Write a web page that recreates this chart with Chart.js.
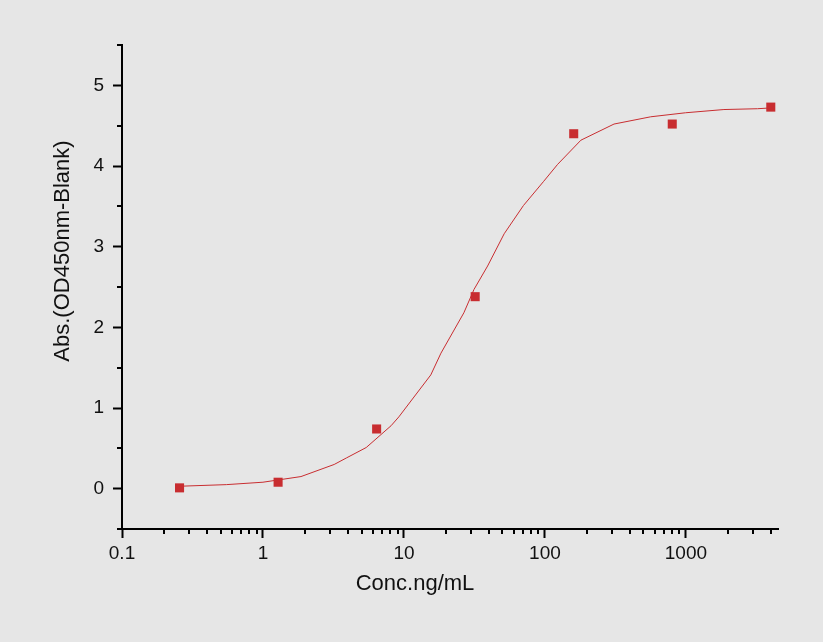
<!DOCTYPE html>
<html>
<head>
<meta charset="utf-8">
<script src="https://cdn.jsdelivr.net/npm/chart.js@4.4.1/dist/chart.umd.min.js"></script>
<style>
  html, body { margin: 0; padding: 0; background: #e6e6e6; }
  canvas { display: block; }
</style>
</head>
<body>
<canvas id="ELISACHART" width="823" height="642"></canvas>
<script>
// measured points (5-fold dilution series)
const concValues = [0.256, 1.28, 6.4, 32, 160, 800, 4000];
const absValues = [0.01, 0.08, 0.74, 2.38, 4.40, 4.52, 4.73];

// fitted curve
const fitConc = [0.256, 0.55, 1, 1.86, 3.2, 3.9, 5.4, 8.1, 9.2, 15.5, 18.3, 26.6, 31.4, 39.2, 51.4, 70.4, 98, 123, 180, 309, 563, 995, 1860, 3220, 4000];
const fitAbs = [0.03, 0.05, 0.08, 0.15, 0.30, 0.38, 0.51, 0.78, 0.89, 1.41, 1.68, 2.18, 2.47, 2.76, 3.16, 3.51, 3.81, 4.02, 4.32, 4.52, 4.61, 4.66, 4.70, 4.71, 4.72];

// tick labels
const xMajorTicks = [0.1, 1, 10, 100, 1000];
const xMinorTicks = [0.2, 0.3, 0.4, 0.5, 0.6, 0.7, 0.8, 0.9, 2, 3, 4, 5, 6, 7, 8, 9, 20, 30, 40, 50, 60, 70, 80, 90, 200, 300, 400, 500, 600, 700, 800, 900, 2000, 3000, 4000];
const yMajorTicks = [0, 1, 2, 3, 4, 5];
const yMinorTicks = [-0.5, 0.5, 1.5, 2.5, 3.5, 4.5, 5.5];

const red = 'rgb(200, 45, 48)';
const fontFamily = '"Liberation Sans", Arial, sans-serif';

// minor ticks and axis titles
const extras = {
    id: 'extras',
    afterDraw(chart) {
        const ctx = chart.ctx;
        const xs = chart.scales.x;
        const ys = chart.scales.y;
        const area = chart.chartArea;
        ctx.save();
        ctx.strokeStyle = '#000';
        ctx.lineWidth = 2;
        ctx.beginPath();
        xMinorTicks.forEach(v => {
            const px = Math.round(xs.getPixelForValue(v));
            ctx.moveTo(px, area.bottom);
            ctx.lineTo(px, area.bottom + 5);
        });
        yMinorTicks.forEach(v => {
            const py = Math.round(ys.getPixelForValue(v));
            ctx.moveTo(area.left, py);
            ctx.lineTo(area.left - 5, py);
        });
        ctx.stroke();

        ctx.fillStyle = '#111';
        ctx.font = '22px ' + fontFamily;
        ctx.textAlign = 'center';
        ctx.textBaseline = 'middle';
        ctx.fillText('Conc.ng/mL', 415, 584);
        ctx.translate(63, 251);
        ctx.rotate(-Math.PI / 2);
        ctx.fillText('Abs.(OD450nm-Blank)', 0, 0);
        ctx.restore();
    }
};

let ctx = document.getElementById('ELISACHART');

let elisa_chart = new Chart(ctx, {
    type: 'scatter',
    data: {
        datasets: [{
            label: 'measured',
            data: concValues.map((c, i) => ({ x: c, y: absValues[i] })),
            showLine: false,
            pointStyle: 'rect',
            pointRadius: 6.4,
            pointBorderWidth: 0,
            backgroundColor: red,
            borderColor: red,
            clip: false
        }, {
            label: 'fit',
            data: fitConc.map((c, i) => ({ x: c, y: fitAbs[i] })),
            showLine: true,
            pointRadius: 0,
            borderColor: red,
            borderWidth: 1,
            tension: 0
        }]
    },
    options: {
        responsive: false,
        animation: false,
        devicePixelRatio: 1,
        layout: {
            padding: { left: 0, top: 45, right: 45, bottom: 0 }
        },
        scales: {
            x: {
                type: 'logarithmic',
                min: 0.1,
                max: 4500,
                afterBuildTicks: axis => {
                    axis.ticks = xMajorTicks.map(v => ({ value: v }));
                },
                afterFit: axis => { axis.height = 113; },
                ticks: {
                    callback: v => String(v),
                    color: '#111',
                    padding: 4,
                    maxRotation: 0,
                    autoSkip: false,
                    font: { family: fontFamily, size: 19 }
                },
                grid: {
                    drawOnChartArea: false,
                    tickLength: 9,
                    tickWidth: 2,
                    tickColor: '#000'
                },
                border: { color: '#000', width: 2 }
            },
            y: {
                min: -0.5,
                max: 5.5,
                afterBuildTicks: axis => {
                    axis.ticks = yMajorTicks.map(v => ({ value: v }));
                },
                afterFit: axis => { axis.width = 122; },
                ticks: {
                    color: '#111',
                    padding: 9,
                    font: { family: fontFamily, size: 19 }
                },
                grid: {
                    drawOnChartArea: false,
                    tickLength: 9,
                    tickWidth: 2,
                    tickColor: '#000'
                },
                border: { color: '#000', width: 2 }
            }
        },
        plugins: {
            legend: { display: false },
            tooltip: { enabled: false }
        }
    },
    plugins: [extras]
});
</script>
</body>
</html>
